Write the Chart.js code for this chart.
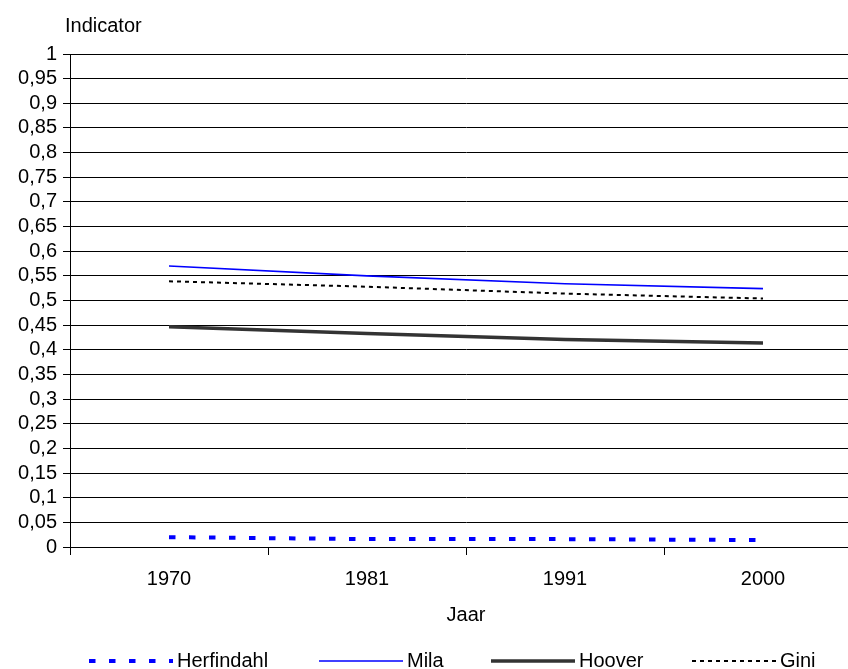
<!DOCTYPE html>
<html>
<head>
<meta charset="utf-8">
<script src="https://cdn.jsdelivr.net/npm/chart.js@4.4.1/dist/chart.umd.min.js"></script>
<style>
  html, body { margin: 0; padding: 0; background: #fff; overflow: hidden; }
  #wrap { width: 880px; height: 669px; position: relative; }
</style>
</head>
<body>
<div id="wrap"><canvas id="chart"></canvas></div>
<script>
// data
const years = ['1970', '1981', '1991', '2000'];
const herfindahl = [0.020, 0.016, 0.016, 0.014];
const mila = [0.570, 0.550, 0.534, 0.524];
const hoover = [0.447, 0.433, 0.421, 0.414];
const gini = [0.539, 0.528, 0.514, 0.504];

const FONT = "'Liberation Sans', Arial, sans-serif";
const legendX = [89, 319, 491, 692];

const fmt = v => String(Math.round(v * 100) / 100).replace('.', ',');

// legend + y title drawn by hand so the samples line up like the original
const extras = {
  id: 'extras',
  afterDraw(chart) {
    const ctx = chart.ctx;
    ctx.save();
    ctx.font = '20px ' + FONT;
    ctx.fillStyle = '#000';
    ctx.textBaseline = 'middle';
    ctx.textAlign = 'left';
    ctx.fillText('Indicator', 65, 26);
    chart.data.datasets.forEach((ds, i) => {
      const x0 = legendX[i];
      const y = 661;
      ctx.beginPath();
      ctx.strokeStyle = ds.borderColor;
      ctx.lineWidth = ds.borderWidth;
      ctx.lineCap = 'butt';
      ctx.setLineDash(ds.borderDash || []);
      ctx.moveTo(x0, y);
      ctx.lineTo(x0 + 84, y);
      ctx.stroke();
      ctx.setLineDash([]);
      ctx.fillText(ds.label, x0 + 88, y);
    });
    ctx.restore();
  }
};

new Chart(document.getElementById('chart'), {
  type: 'line',
  data: {
    labels: years,
    datasets: [
      { label: 'Herfindahl', data: herfindahl, borderColor: '#0000ff', borderWidth: 4, borderDash: [6.5, 13.5] },
      { label: 'Mila', data: mila, borderColor: '#0000ff', borderWidth: 1.6 },
      { label: 'Hoover', data: hoover, borderColor: '#333333', borderWidth: 3.5 },
      { label: 'Gini', data: gini, borderColor: '#000000', borderWidth: 2, borderDash: [4, 4] }
    ]
  },
  options: {
    responsive: true,
    maintainAspectRatio: false,
    animation: false,
    layout: { padding: { top: 54, right: 18, left: 0, bottom: 0 } },
    elements: {
      point: { radius: 0 },
      line: { tension: 0, borderCapStyle: 'butt', fill: false }
    },
    plugins: {
      legend: { display: false },
      tooltip: { enabled: false }
    },
    scales: {
      x: {
        offset: true,
        grid: { offset: true, drawOnChartArea: false, drawTicks: true, tickLength: 8, color: '#000' },
        border: { color: '#000', width: 1 },
        ticks: { color: '#000', font: { family: FONT, size: 20 }, padding: 12, maxRotation: 0 },
        title: { display: true, text: 'Jaar', color: '#000', font: { family: FONT, size: 20 }, padding: { top: 14, bottom: 42 } },
        afterFit: s => { s.height = 122; }
      },
      y: {
        min: 0,
        max: 1,
        grid: { color: '#000', lineWidth: 1, tickLength: 7, drawTicks: true },
        border: { color: '#000', width: 1 },
        ticks: { stepSize: 0.05, autoSkip: false, color: '#000', font: { family: FONT, size: 20 }, padding: 6, callback: fmt },
        afterFit: s => { s.width = 70; }
      }
    }
  },
  plugins: [extras]
});
</script>
</body>
</html>
